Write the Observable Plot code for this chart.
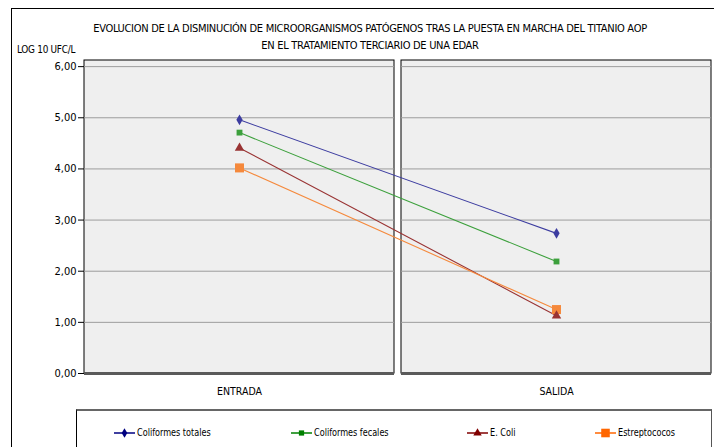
<!DOCTYPE html>
<html><head><meta charset="utf-8">
<script src="https://cdn.jsdelivr.net/npm/d3@7"></script>
<script src="https://cdn.jsdelivr.net/npm/@observablehq/plot@0.6"></script>
<style>
body{margin:0;background:#fff;}
#wrap{position:relative;width:714px;height:447px;overflow:hidden;font-family:"DejaVu Sans Condensed","Liberation Sans",sans-serif;color:#000;}
#frame{position:absolute;left:11px;top:8px;width:720px;height:460px;border-left:1.5px solid #000;border-top:1.5px solid #000;pointer-events:none;}
.title{position:absolute;left:0;width:740px;text-align:center;font-size:11px;white-space:nowrap;letter-spacing:-0.3px;}
#ylab{position:absolute;left:17px;top:43px;font-size:11px;white-space:nowrap;letter-spacing:-0.3px;transform:scaleX(0.9);transform-origin:left center;}
#legend{position:absolute;left:76px;top:409px;width:634px;height:60px;border-top:2px solid #666;border-left:1px solid #000;border-right:1.5px solid #555;}
.item{position:absolute;top:15px;font-size:11px;white-space:nowrap;display:flex;align-items:center;}
.item span{display:inline-block;transform:scaleX(0.82);transform-origin:left center;}
.item svg{margin-right:2px;}
#chart{position:absolute;left:0;top:0;}
</style></head>
<body>
<div id="wrap">
  <div id="chart"></div>
  <div id="frame"></div>
  <div class="title" id="t1" style="top:22px"></div>
  <div class="title" id="t2" style="top:39px"></div>
  <div id="ylab"></div>
  <div id="legend"></div>
</div>
<script>
const titleLines = ["EVOLUCION DE LA DISMINUCIÓN DE MICROORGANISMOS PATÓGENOS TRAS LA PUESTA EN MARCHA DEL TITANIO AOP", "EN EL TRATAMIENTO TERCIARIO DE UNA EDAR"];
const yLabel = "LOG 10 UFC/L";
const categories = ["ENTRADA", "SALIDA"];
const series = ["Coliformes totales", "Coliformes fecales", "E. Coli", "Estreptococos"];
const entrada = [4.96, 4.71, 4.41, 4.02];
const salida = [2.74, 2.19, 1.13, 1.25];
const yTicks = [0, 1, 2, 3, 4, 5, 6];
const lineColors = ["#3c3ca0", "#3ca03c", "#993333", "#f5893c"];
const legendColors = ["#000080", "#008000", "#800000", "#ff6600"];
const symbols = ["diamond", "square", "triangle", "square"];
const markerR = [3.3, 3.3, 3.5, 5.1];

document.getElementById("t1").textContent = titleLines[0];
document.getElementById("t2").textContent = titleLines[1];
document.getElementById("ylab").textContent = yLabel;

const rows = [];
series.forEach((s, i) => {
  rows.push({series: s, cat: categories[0], value: entrada[i], r: markerR[i]});
  rows.push({series: s, cat: categories[1], value: salida[i], r: markerR[i]});
});
const grid = [];
categories.forEach(c => yTicks.filter(t => t > 0).forEach(t => grid.push({cat: c, v: t})));
const floor = categories.map(c => ({cat: c, v: 0}));

const chart = Plot.plot({
  width: 714, height: 447,
  marginTop: 60, marginBottom: 74, marginLeft: 84, marginRight: 2,
  style: {background: "transparent", fontFamily: '"DejaVu Sans Condensed","Liberation Sans",sans-serif', overflow: "visible"},
  x: {type: "band", domain: categories, paddingInner: 0.022, paddingOuter: 0, align: 0.5},
  y: {domain: [0, 6.12]},
  color: {domain: series, range: lineColors},
  symbol: {domain: series, range: symbols},
  r: {type: "identity"},
  marks: [
    Plot.cell(categories, {x: d => d, fill: "#efefef", stroke: "#000", strokeWidth: 1}),
    Plot.tickY(grid, {x: "cat", y: "v", stroke: "#9c9c9c", strokeWidth: 1}),
    Plot.tickY(floor, {x: "cat", y: "v", stroke: "#5a5a5a", strokeWidth: 3}),
    Plot.axisY({ticks: yTicks, tickFormat: d => d.toFixed(2).replace(".", ","), tickSize: 6, tickPadding: 2, fontSize: 11, stroke: "#000", label: null}),
    Plot.axisX({tickSize: 0, tickPadding: 14, fontSize: 10.5, label: null}),
    Plot.line(rows, {x: "cat", y: "value", z: "series", stroke: "series", strokeWidth: 1.1}),
    Plot.dot(rows, {x: "cat", y: "value", symbol: "series", fill: "series", r: "r"})
  ]
});
document.getElementById("chart").appendChild(chart);

// legend
const legendX = [37, 214, 390, 518];
const leg = document.getElementById("legend");
series.forEach((s, i) => {
  const div = document.createElement("div");
  div.className = "item";
  div.style.left = legendX[i] + "px";
  const symType = symbols[i] === "diamond" ? d3.symbolDiamond : symbols[i] === "square" ? d3.symbolSquare : d3.symbolTriangle;
  const sym = d3.symbol(symType, Math.PI * markerR[i] * markerR[i] * (i === 3 ? 0.9 : 0.8))();
  div.innerHTML = `<svg width="21" height="12"><line x1="0" x2="21" y1="6" y2="6" stroke="${legendColors[i]}" stroke-width="1.5"/><path transform="translate(10.5,6)" d="${sym}" fill="${legendColors[i]}"/></svg><span>${s}</span>`;
  leg.appendChild(div);
});
</script>
</body></html>
